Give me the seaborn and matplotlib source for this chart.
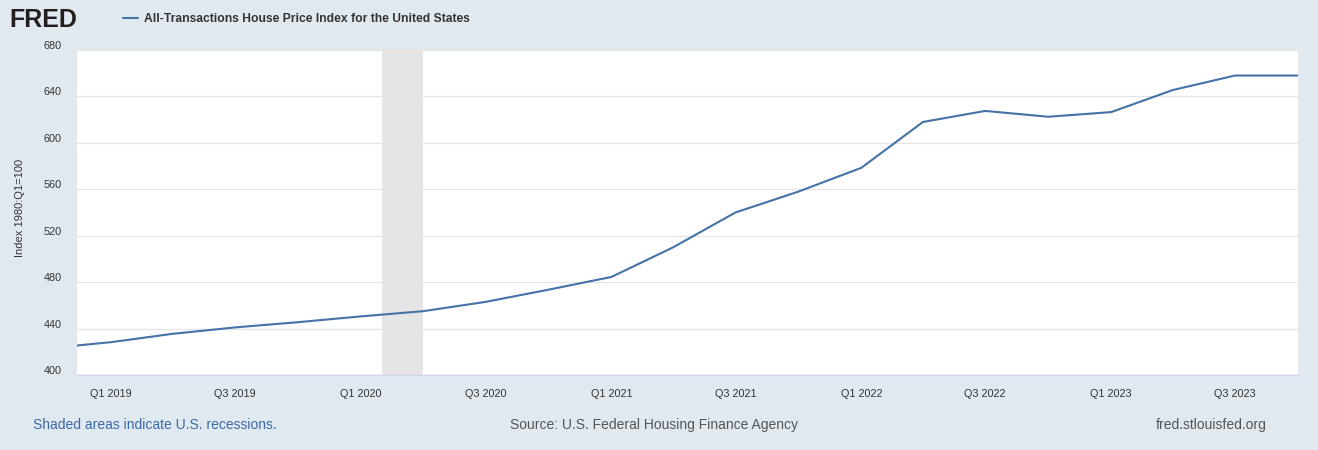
import matplotlib
matplotlib.use("Agg")
import matplotlib.pyplot as plt
from matplotlib.transforms import ScaledTranslation
import pandas as pd
import seaborn as sns

# data ----------------------------------------
quarters = ["2018Q4", "2019Q1", "2019Q2", "2019Q3", "2019Q4",
            "2020Q1", "2020Q2", "2020Q3", "2020Q4",
            "2021Q1", "2021Q2", "2021Q3", "2021Q4",
            "2022Q1", "2022Q2", "2022Q3", "2022Q4",
            "2023Q1", "2023Q2", "2023Q3", "2023Q4"]
hpi = [423.0, 428.3, 435.5, 441.0, 445.5,
       450.5, 455.0, 463.0, 473.5,
       484.5, 510.0, 540.0, 558.0,
       578.5, 618.0, 627.5, 622.5,
       626.5, 645.5, 658.0, 658.0]
recession = ("2020-02-01", "2020-04-01")
y_ticks = [400, 440, 480, 520, 560, 600, 640, 680]

series_name = "All-Transactions House Price Index for the United States"
y_label = "Index 1980:Q1=100"

df = pd.DataFrame({
    "date": pd.PeriodIndex(quarters, freq="Q").to_timestamp(),
    "value": hpi,
})

bg = "#e1e9f0"
line_c = "#4572a7"
grid_c = "#e6e6e6"
text_c = "#333333"

sns.set_style("white")
plt.rcParams["font.family"] = ["Liberation Sans", "DejaVu Sans"]

W, H = 1318, 450
fig = plt.figure(figsize=(W / 100, H / 100), dpi=100, facecolor=bg)
ax = fig.add_axes([77 / W, (H - 375) / H, (1298 - 77) / W, (375 - 50) / H])
ax.set_facecolor("white")

# recession shading
ax.axvspan(pd.Timestamp(recession[0]), pd.Timestamp(recession[1]),
           color="#e5e5e5", lw=0, zorder=0)

sns.lineplot(data=df, x="date", y="value", ax=ax, color=line_c, lw=1.5,
             label=series_name, zorder=3)

ax.set_xlim(pd.Timestamp("2018-11-12"), pd.Timestamp("2023-10-01"))
ax.set_ylim(400, 680)
ax.set_yticks(y_ticks)
ax.grid(axis="y", color=grid_c, lw=1)
ax.grid(axis="x", visible=False)
for s in ["top", "right", "left"]:
    ax.spines[s].set_visible(False)
ax.spines["bottom"].set_color("#ccd6eb")
ax.spines["bottom"].set_linewidth(1)

# x ticks at Q1 / Q3
xt = [d for d in df["date"] if d.month in (1, 7) and d >= pd.Timestamp("2019-01-01")]
ax.set_xticks(xt)
ax.set_xticklabels([f"Q{(d.month - 1) // 3 + 1} {d.year}" for d in xt])
ax.tick_params(axis="x", length=7, width=1, color="#ccd6eb", pad=3,
               labelsize=7.8, labelcolor=text_c)
ax.tick_params(axis="y", length=0, pad=11, labelsize=7.8, labelcolor=text_c)
for lbl in ax.get_yticklabels():
    lbl.set_transform(lbl.get_transform() + ScaledTranslation(0, 3.6 / 72, fig.dpi_scale_trans))
ax.set_xlabel("")
ax.set_ylabel("")

fig.text(20 / W, 1 - 208 / H, y_label, rotation=90, ha="center", va="center",
         fontsize=8, color=text_c)

# legend / header
leg = ax.legend(loc="center left", bbox_to_anchor=(123 / W, 1 - 19 / H),
                bbox_transform=fig.transFigure, frameon=False, borderpad=0,
                borderaxespad=0, handlelength=1.25, handletextpad=0.5,
                prop={"weight": "bold", "size": 8.7})
for t in leg.get_texts():
    t.set_color(text_c)

fig.text(9 / W, 1 - 20 / H, "FRED", fontsize=18, fontweight="bold",
         color="#231f20", ha="left", va="center")

# footer
fig.text(33 / W, 1 - 425 / H, "Shaded areas indicate U.S. recessions.",
         fontsize=10, color="#3a6aa8", ha="left", va="center")
fig.text(654 / W, 1 - 425 / H, "Source: U.S. Federal Housing Finance Agency",
         fontsize=10, color="#555555", ha="center", va="center")
fig.text(1267 / W, 1 - 425 / H, "fred.stlouisfed.org",
         fontsize=10, color="#555555", ha="right", va="center")

fig.savefig("out.png", dpi=100, facecolor=bg)
